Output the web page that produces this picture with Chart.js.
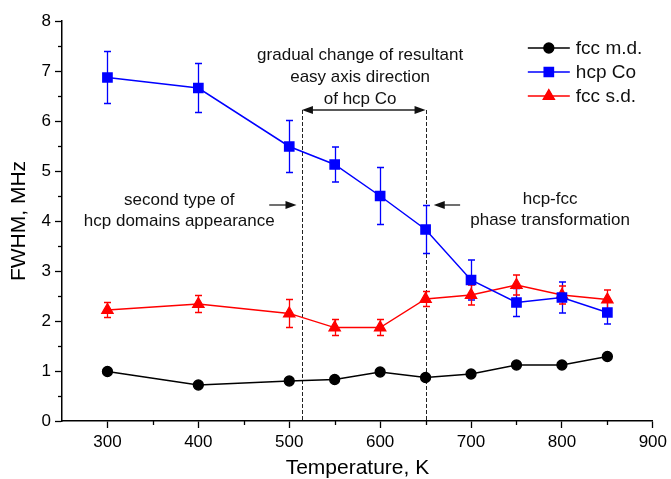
<!DOCTYPE html>
<html><head><meta charset="utf-8">
<script src="https://cdn.jsdelivr.net/npm/chart.js@4/dist/chart.umd.min.js"></script>
<style>html,body{margin:0;padding:0;background:#fff}#wrap{width:671px;height:479px}</style>
</head><body><div id="wrap"><canvas id="c" width="671" height="479"></canvas></div>
<script>
// ---- data ----
const temperatures = [300, 400, 500, 550, 600, 650, 700, 750, 800, 850];
const fccMd      = [0.99, 0.72, 0.80, 0.83, 0.98, 0.87, 0.94, 1.12, 1.12, 1.29];
const hcpCo      = [6.87, 6.66, 5.49, 5.13, 4.50, 3.83, 2.82, 2.37, 2.47, 2.17];
const hcpCoErr   = [0.52, 0.49, 0.52, 0.35, 0.57, 0.48, 0.40, 0.28, 0.31, 0.23];
const fccSd      = [2.22, 2.34, 2.15, 1.87, 1.87, 2.44, 2.52, 2.72, 2.52, 2.43];
const fccSdErr   = [0.15, 0.17, 0.28, 0.16, 0.16, 0.15, 0.20, 0.20, 0.18, 0.19];
const seriesLabels = ['fcc m.d.', 'hcp Co', 'fcc s.d.'];
const xTitle = 'Temperature, K';
const yTitle = 'FWHM, MHz';
// annotation content (data units)
const markerTemps = [514, 650];         // dashed vertical lines
const rangeArrowLevel = 6.22;           // level of double arrow
const rangeText = ['gradual change of resultant', 'easy axis direction', 'of hcp Co'];
const rangeTextAt = {x: 578, y: [7.32, 6.88, 6.44]};
const leftText = ['second type of', 'hcp domains appearance'];
const leftTextAt = {x: 379, y: [4.42, 4.00]};
const leftArrow = {from: 478, to: 508, y: 4.32};
const rightText = ['hcp-fcc', 'phase transformation'];
const rightTextAt = {x: 787, y: [4.44, 4.02]};
const rightArrow = {from: 688, to: 659, y: 4.32};

const FONT = '"Liberation Sans", Arial, Helvetica, sans-serif';
Chart.defaults.font.family = FONT;
Chart.defaults.color = '#000';

const seriesValues = [fccMd, hcpCo, fccSd];
const seriesErrors = [null, hcpCoErr, fccSdErr];

function arrowHead(ctx, x, y, dir) {
  ctx.beginPath();
  ctx.moveTo(x, y);
  ctx.lineTo(x - dir * 11, y - 4);
  ctx.lineTo(x - dir * 11, y + 4);
  ctx.closePath();
  ctx.fill();
}

const errorBars = {
  id: 'errorBars',
  beforeDatasetsDraw(chart) {
    const ctx = chart.ctx, xs = chart.scales.x, ys = chart.scales.y;
    chart.data.datasets.forEach((ds, i) => {
      const err = seriesErrors[i];
      if (!err) return;
      const vals = seriesValues[i];
      ctx.save();
      ctx.strokeStyle = ds.borderColor;
      ctx.lineWidth = 1.3;
      vals.forEach((v, k) => {
        const x = Math.round(xs.getPixelForValue(temperatures[k])) + 0.5;
        const yt = ys.getPixelForValue(v + err[k]);
        const yb = ys.getPixelForValue(v - err[k]);
        ctx.beginPath();
        ctx.moveTo(x, yt); ctx.lineTo(x, yb);
        ctx.moveTo(x - 3.5, yt); ctx.lineTo(x + 3.5, yt);
        ctx.moveTo(x - 3.5, yb); ctx.lineTo(x + 3.5, yb);
        ctx.stroke();
      });
      ctx.restore();
    });
  }
};

const annotations = {
  id: 'annotations',
  beforeDatasetsDraw(chart) {
    const ctx = chart.ctx, xs = chart.scales.x, ys = chart.scales.y;
    ctx.save();
    ctx.strokeStyle = '#222';
    ctx.fillStyle = '#111';
    ctx.lineWidth = 1;
    ctx.setLineDash([4, 2]);
    const ya = ys.getPixelForValue(rangeArrowLevel);
    markerTemps.forEach(t => {
      const x = Math.round(xs.getPixelForValue(t)) + 0.5;
      ctx.beginPath();
      ctx.moveTo(x, ya); ctx.lineTo(x, ys.getPixelForValue(0));
      ctx.stroke();
    });
    ctx.setLineDash([]);
    // double arrow
    const x1 = xs.getPixelForValue(markerTemps[0]), x2 = xs.getPixelForValue(markerTemps[1]);
    ctx.lineWidth = 1.3;
    ctx.beginPath(); ctx.moveTo(x1 + 4, ya); ctx.lineTo(x2 - 4, ya); ctx.stroke();
    arrowHead(ctx, x1, ya, -1);
    arrowHead(ctx, x2, ya, 1);
    // single arrows
    [leftArrow, rightArrow].forEach(a => {
      const xf = xs.getPixelForValue(a.from), xt = xs.getPixelForValue(a.to), y = ys.getPixelForValue(a.y);
      const dir = xt > xf ? 1 : -1;
      ctx.beginPath(); ctx.moveTo(xf, y); ctx.lineTo(xt - dir * 5, y); ctx.stroke();
      arrowHead(ctx, xt, y, dir);
    });
    ctx.restore();
  },
  afterDraw(chart) {
    const ctx = chart.ctx, xs = chart.scales.x, ys = chart.scales.y;
    ctx.save();
    ctx.fillStyle = '#111';
    ctx.font = '17px ' + FONT;
    ctx.textAlign = 'center';
    ctx.textBaseline = 'middle';
    [[rangeText, rangeTextAt], [leftText, leftTextAt], [rightText, rightTextAt]].forEach(([lines, at]) => {
      lines.forEach((s, i) => ctx.fillText(s, xs.getPixelForValue(at.x), ys.getPixelForValue(at.y[i])));
    });
    // minor ticks
    ctx.strokeStyle = '#000';
    ctx.lineWidth = 1.3;
    const b = chart.chartArea.bottom, l = chart.chartArea.left;
    for (let t = 350; t < 900; t += 100) {
      const x = Math.round(xs.getPixelForValue(t)) + 0.5;
      ctx.beginPath(); ctx.moveTo(x, b); ctx.lineTo(x, b + 4); ctx.stroke();
    }
    for (let v = 0.5; v < 8; v += 1) {
      const y = Math.round(ys.getPixelForValue(v)) + 0.5;
      ctx.beginPath(); ctx.moveTo(l, y); ctx.lineTo(l - 4, y); ctx.stroke();
    }
    // legend
    const ca = chart.chartArea;
    const lx = ca.right - 125, ly = ca.top + 27, step = 24;
    ctx.font = '19px ' + FONT;
    ctx.textAlign = 'left';
    chart.data.datasets.forEach((ds, i) => {
      const y = ly + i * step;
      ctx.strokeStyle = ds.borderColor;
      ctx.lineWidth = ds.borderWidth;
      ctx.beginPath(); ctx.moveTo(lx, y); ctx.lineTo(lx + 42, y); ctx.stroke();
      Chart.helpers.drawPoint(ctx, {pointStyle: ds.pointStyle, radius: ds.pointRadius, borderWidth: 1}, lx + 21, y);
      ctx.fillStyle = ds.pointBackgroundColor;
      ctx.strokeStyle = ds.pointBackgroundColor;
      ctx.fill();
      ctx.fillStyle = '#111';
      ctx.fillText(ds.label, lx + 48, y + 1);
    });
    ctx.restore();
  }
};

new Chart(document.getElementById('c'), {
  type: 'line',
  data: {
    datasets: [
      { label: seriesLabels[0], data: fccMd.map((v, i) => ({x: temperatures[i], y: v})),
        borderColor: '#000', backgroundColor: '#000', pointBackgroundColor: '#000', pointBorderColor: '#000',
        borderWidth: 1.3, pointStyle: 'circle', pointRadius: 5 },
      { label: seriesLabels[1], data: hcpCo.map((v, i) => ({x: temperatures[i], y: v})),
        borderColor: '#0000ff', backgroundColor: '#0000ff', pointBackgroundColor: '#0000ff', pointBorderColor: '#0000ff',
        borderWidth: 1.5, pointStyle: 'rect', pointRadius: 6.5 },
      { label: seriesLabels[2], data: fccSd.map((v, i) => ({x: temperatures[i], y: v})),
        borderColor: '#ff0000', backgroundColor: '#ff0000', pointBackgroundColor: '#ff0000', pointBorderColor: '#ff0000',
        borderWidth: 1.3, pointStyle: 'triangle', pointRadius: 6.5 }
    ]
  },
  options: {
    responsive: false,
    animation: false,
    devicePixelRatio: 1,
    layout: { padding: { left: 0, right: 16, top: 21, bottom: 0 } },
    plugins: { legend: { display: false }, tooltip: { enabled: false } },
    elements: { line: { tension: 0 }, point: { borderWidth: 1 } },
    scales: {
      x: {
        type: 'linear', min: 250, max: 900,
        ticks: { stepSize: 100, includeBounds: false, font: { size: 17 }, color: '#000', padding: 4, maxRotation: 0 },
        grid: { drawOnChartArea: false, drawTicks: true, tickLength: 7, tickColor: '#000', tickWidth: 1.3 },
        border: { color: '#000', width: 1.5 },
        title: { display: true, text: xTitle, font: { size: 21, lineHeight: 1 }, color: '#000', padding: { top: 0, bottom: 0 } },
        afterFit: s => { s.height = 58; }
      },
      y: {
        min: 0, max: 8,
        ticks: { stepSize: 1, font: { size: 17 }, color: '#000', padding: 4 },
        grid: { drawOnChartArea: false, drawTicks: true, tickLength: 7, tickColor: '#000', tickWidth: 1.3 },
        border: { color: '#000', width: 1.5 },
        title: { display: true, text: yTitle, font: { size: 21, lineHeight: 1 }, color: '#000', padding: { top: 9, bottom: 0 } },
        afterFit: s => { s.width = 62; }
      }
    }
  },
  plugins: [annotations, errorBars]
});
</script>
</body></html>
